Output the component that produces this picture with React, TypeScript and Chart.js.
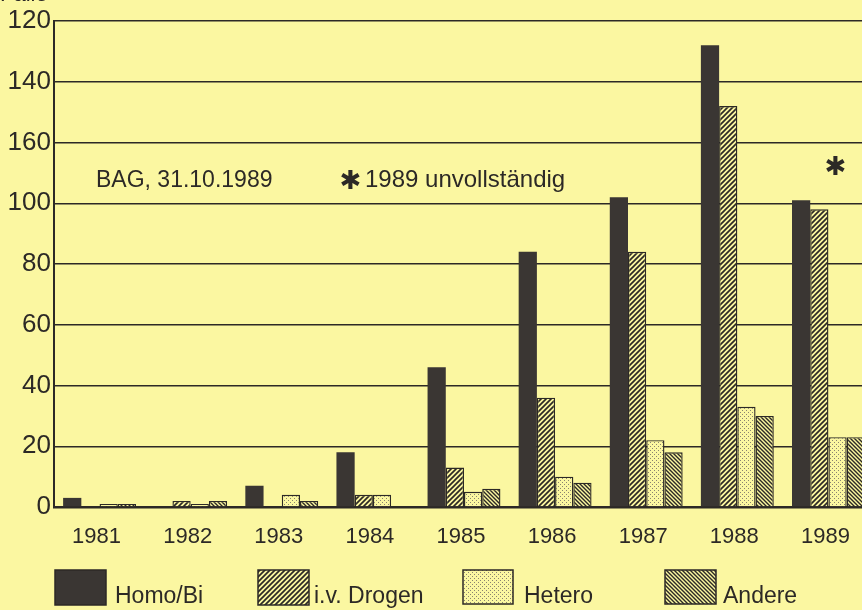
import React, { useEffect, useRef } from "react";
import { Chart, registerables } from "chart.js";

Chart.register(...registerables);

const years = ["1981", "1982", "1983", "1984", "1985", "1986", "1987", "1988", "1989"];
const homoBi = [3, 0, 7, 18, 46, 84, 102, 152, 101];
const ivDrogen = [0, 2, 0, 4, 13, 36, 84, 132, 98];
const hetero = [1, 1, 4, 4, 5, 10, 22, 33, 23];
const andere = [1, 2, 2, 0, 6, 8, 18, 30, 23];
const yTickLabels = ["0", "20", "40", "60", "80", "100", "160", "140", "120"];
const seriesNames = ["Homo/Bi", "i.v. Drogen", "Hetero", "Andere"];
const sourceNote = "BAG, 31.10.1989";
const incompleteNote = "1989 unvollständig";
const axisUnit = "Fälle";

const BG = "#fbf7a1";
const INK = "#2c2926";
const DARK = "#3a3633";
const FONT = '"Liberation Sans", Arial, sans-serif';

function makeHatch(dir: number, size: number, lw: number): CanvasPattern | string {
  const c = document.createElement("canvas");
  c.width = size;
  c.height = size;
  const g = c.getContext("2d");
  if (!g) return BG;
  g.fillStyle = BG;
  g.fillRect(0, 0, size, size);
  g.strokeStyle = INK;
  g.lineWidth = lw;
  g.beginPath();
  if (dir > 0) {
    g.moveTo(0, size); g.lineTo(size, 0);
    g.moveTo(-size / 2, size / 2); g.lineTo(size / 2, -size / 2);
    g.moveTo(size / 2, size * 1.5); g.lineTo(size * 1.5, size / 2);
  } else {
    g.moveTo(0, 0); g.lineTo(size, size);
    g.moveTo(-size / 2, size / 2); g.lineTo(size / 2, size * 1.5);
    g.moveTo(size / 2, -size / 2); g.lineTo(size * 1.5, size / 2);
  }
  g.stroke();
  const p = g.createPattern(c, "repeat");
  return p || BG;
}

function makeDots(): CanvasPattern | string {
  const c = document.createElement("canvas");
  c.width = 4;
  c.height = 4;
  const g = c.getContext("2d");
  if (!g) return BG;
  g.fillStyle = BG;
  g.fillRect(0, 0, 4, 4);
  g.fillStyle = "#8a8470";
  g.fillRect(0, 0, 1, 1);
  g.fillRect(2, 2, 1, 1);
  const p = g.createPattern(c, "repeat");
  return p || BG;
}

export default function App() {
  const ref = useRef<HTMLCanvasElement | null>(null);

  useEffect(() => {
    const canvas = ref.current;
    if (!canvas) return;
    const hatchUp = makeHatch(1, 5, 1.7);
    const hatchDown = makeHatch(-1, 4, 1.4);
    const dots = makeDots();
    const fills: any[] = [DARK, hatchUp, dots, hatchDown];

    const decor = {
      id: "decor",
      beforeDraw(chart: any) {
        const ctx = chart.ctx;
        ctx.save();
        ctx.fillStyle = BG;
        ctx.fillRect(0, 0, chart.width, chart.height);
        ctx.restore();
      },
      afterDraw(chart: any) {
        const ctx = chart.ctx;
        const xs = chart.scales.x;
        const ys = chart.scales.y;
        ctx.save();
        ctx.fillStyle = INK;
        ctx.textBaseline = "alphabetic";
        ctx.textAlign = "left";
        // axis unit (cut at the top)
        ctx.font = `22px ${FONT}`;
        ctx.fillText(axisUnit, 0, 1);
        // notes
        ctx.font = `23px ${FONT}`;
        ctx.fillText(sourceNote, 96, 187);
        ctx.font = `24px ${FONT}`;
        ctx.fillText(incompleteNote, 365, 187);
        ctx.font = `bold 26px "DejaVu Sans", sans-serif`;
        ctx.textAlign = "center";
        ctx.textBaseline = "middle";
        ctx.fillText("✱", 350.5, 182);
        const ax = xs.getPixelForValue(8) + 7;
        const ay = ys.getPixelForValue(homoBi[8]) - 32;
        ctx.fillText("✱", ax, ay);
        // legend
        const boxes = [
          [55, 570, 51, 35, 115],
          [258, 570, 51, 35, 314],
          [463, 570, 50, 34, 524],
          [665, 570, 51, 34, 723],
        ];
        boxes.forEach((b, i) => {
          ctx.fillStyle = fills[i];
          ctx.fillRect(b[0], b[1], b[2], b[3]);
          ctx.strokeStyle = INK;
          ctx.lineWidth = 1.5;
          ctx.strokeRect(b[0], b[1], b[2], b[3]);
          ctx.fillStyle = INK;
          ctx.font = `23px ${FONT}`;
          ctx.textAlign = "left";
          ctx.textBaseline = "alphabetic";
          ctx.fillText(seriesNames[i], b[4], 603);
        });
        ctx.restore();
      },
    };

    const values = [homoBi, ivDrogen, hetero, andere];
    const chart = new Chart(canvas, {
      type: "bar",
      data: {
        labels: years,
        datasets: values.map((v, i) => ({
          label: seriesNames[i],
          data: v,
          backgroundColor: fills[i],
          borderColor: i === 0 ? DARK : INK,
          borderWidth: i === 0 ? 0 : 1.4,
          categoryPercentage: 0.8,
          barPercentage: 1.0,
        })),
      },
      options: {
        responsive: false,
        animation: false,
        devicePixelRatio: 1,
        layout: { padding: { top: 21, right: 6, left: 0, bottom: 0 } },
        plugins: { legend: { display: false }, tooltip: { enabled: false } },
        scales: {
          x: {
            grid: { display: false, drawTicks: false },
            border: { display: true, color: INK, width: 2.5 },
            ticks: {
              color: INK,
              font: { family: FONT, size: 22 },
              padding: 17,
              labelOffset: -3,
              maxRotation: 0,
            },
            afterFit: (s: any) => { s.height = 103; },
          },
          y: {
            min: 0,
            max: 160,
            ticks: {
              stepSize: 20,
              color: INK,
              font: { family: FONT, size: 26 },
              padding: 3,
              callback: (_v: any, i: number) => yTickLabels[i],
            },
            grid: { color: INK, lineWidth: 1.5, drawTicks: false },
            border: { display: true, color: INK, width: 2 },
            afterFit: (s: any) => { s.width = 54; },
          },
        },
      },
      plugins: [decor],
    } as any);
    return () => chart.destroy();
  }, []);

  return (
    <div
      style={{
        position: "fixed",
        left: 0,
        top: 0,
        width: 862,
        height: 610,
        overflow: "hidden",
        background: BG,
      }}
    >
      <canvas ref={ref} width={880} height={610} style={{ display: "block", width: 880, height: 610 }} />
    </div>
  );
}
